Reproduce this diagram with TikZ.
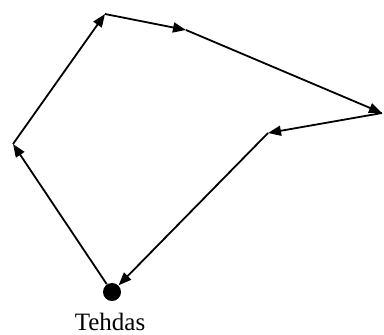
\documentclass[tikz,border=0pt]{standalone}
\usepackage{fontspec}
\setmainfont{Liberation Serif}
\usetikzlibrary{arrows.meta, positioning}

\begin{document}
\begin{tikzpicture}[x=0.5pt,y=-0.5pt,
  reitti/.style={line width=0.9pt,-{Triangle[length=6.5pt,width=5pt]}},
  tehdasmerkki/.style={circle,fill,inner sep=0pt,minimum size=9pt}]
\useasboundingbox (0,0) rectangle (384,334);
% stops along the route
\coordinate (p1) at (13,144);
\coordinate (p2) at (105,14);
\coordinate (p3) at (186,30);
\coordinate (p4) at (382,113);
\coordinate (p5) at (268,133);
\node[tehdasmerkki] (tehdas) at (112,292) {};
\node[inner sep=0pt,font=\fontsize{12.5}{14}\selectfont] (nimi) at (110,322) {Tehdas};
% the round trip
\draw[reitti] (tehdas) -- (p1);
\draw[reitti] (p1) -- (p2);
\draw[reitti] (p2) -- (p3);
\draw[reitti] (p3) -- (p4);
\draw[reitti] (p4) -- (p5);
\draw[reitti] (p5) -- (tehdas);
\end{tikzpicture}
\end{document}
